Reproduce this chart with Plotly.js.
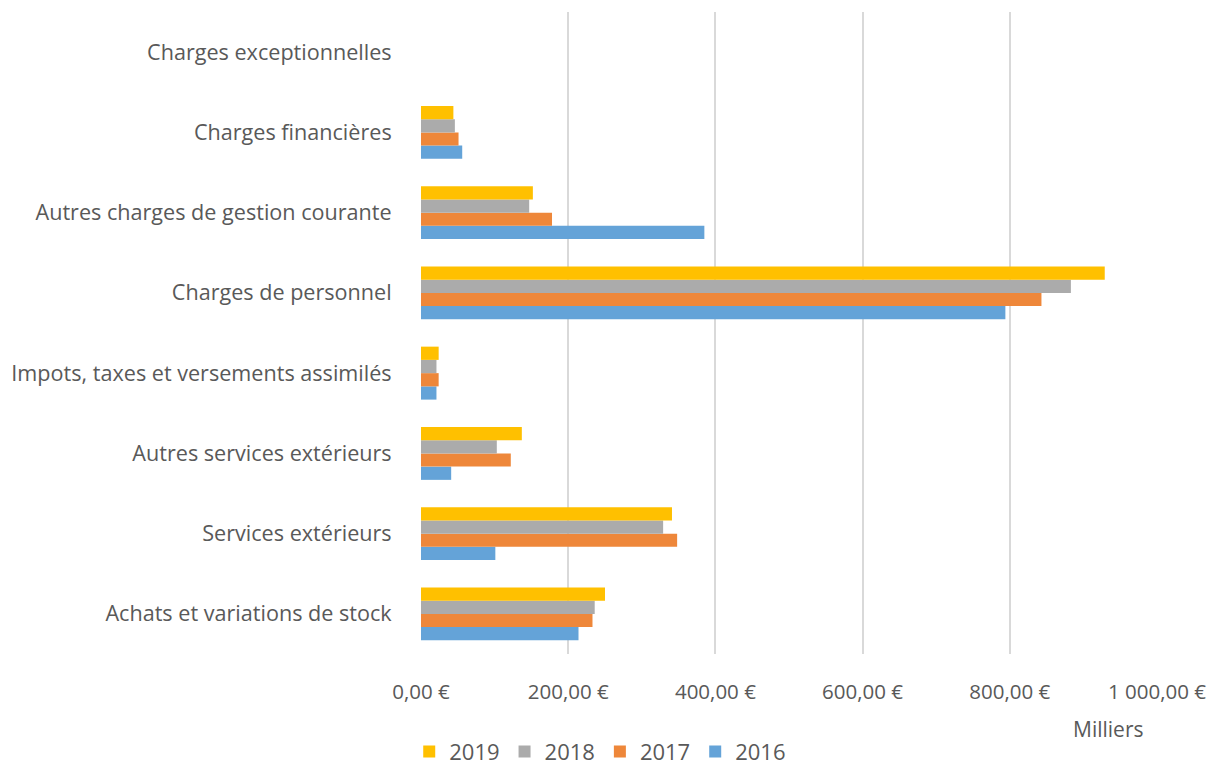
<!DOCTYPE html>
<html>
<head>
<meta charset="utf-8">
<script src="https://cdn.plot.ly/plotly-3.0.1.min.js"></script>
<style>html,body{margin:0;padding:0;background:#fff}#chart{width:1214px;height:767px}</style>
</head>
<body>
<div id="chart"></div>
<script>
// Categories, listed from bottom to top as drawn
const categories = [
  "Achats et variations de stock",
  "Services extérieurs",
  "Autres services extérieurs",
  "Impots, taxes et versements assimilés",
  "Charges de personnel",
  "Autres charges de gestion courante",
  "Charges financières",
  "Charges exceptionnelles"
];
// Values in thousands of euros (Milliers)
const values2016 = [214, 101, 41, 21, 794, 385, 56, 0];
const values2017 = [233, 348, 122, 24, 843, 178, 51, 0];
const values2018 = [236, 329, 103, 21, 883, 147, 46, 0];
const values2019 = [250, 341, 137, 24, 929, 152, 44, 0];
const years = ["2016", "2017", "2018", "2019"];
const tickValues = [0, 200, 400, 600, 800, 1000];
const tickLabels = ["0,00 €", "200,00 €", "400,00 €", "600,00 €", "800,00 €", "1 000,00 €"];

const colors = ["#64A3D8", "#EE873A", "#ABABAB", "#FFC000"];
const series = [values2016, values2017, values2018, values2019];
const FONT = "'Open Sans', sans-serif";
const TXT = "#595959";

const traces = series.map((vals, i) => ({
  type: "bar",
  orientation: "h",
  name: years[i],
  x: vals,
  y: categories,
  marker: {color: colors[i], line: {width: 0}},
  hoverinfo: "x+y+name"
}));

const layout = {
  width: 1214, height: 767,
  paper_bgcolor: "#ffffff", plot_bgcolor: "#ffffff",
  margin: {l: 421, r: 57, t: 12, b: 113, autoexpand: false},
  barmode: "group",
  bargap: 0.34,
  bargroupgap: 0,
  font: {family: FONT, color: TXT, size: 20},
  showlegend: true,
  legend: {
    orientation: "h", traceorder: "reversed",
    x: -0.016, xanchor: "left", y: -0.152, yanchor: "middle",
    font: {family: FONT, color: TXT, size: 22},
    itemwidth: 30, itemsizing: "constant",
    bgcolor: "rgba(0,0,0,0)"
  },
  xaxis: {
    range: [0, 1000],
    tickvals: tickValues, ticktext: tickLabels,
    showgrid: true, gridcolor: "#D9D9D9", gridwidth: 1.5,
    zeroline: false, showline: false,
    ticks: "outside", ticklen: 19, tickcolor: "rgba(0,0,0,0)",
    tickfont: {family: FONT, color: TXT, size: 20.5},
    fixedrange: true
  },
  yaxis: {
    type: "category",
    showgrid: false, zeroline: false, showline: false,
    ticks: "outside", ticklen: 24, tickcolor: "rgba(0,0,0,0)",
    tickfont: {family: FONT, color: TXT, size: 21.6},
    fixedrange: true
  },
  annotations: [{
    text: "Milliers", xref: "paper", yref: "paper",
    x: 0.933, y: -0.117, xanchor: "center", yanchor: "middle",
    showarrow: false, font: {family: FONT, color: TXT, size: 21}
  }]
};

Plotly.newPlot("chart", traces, layout, {displayModeBar: false});
</script>
</body>
</html>
